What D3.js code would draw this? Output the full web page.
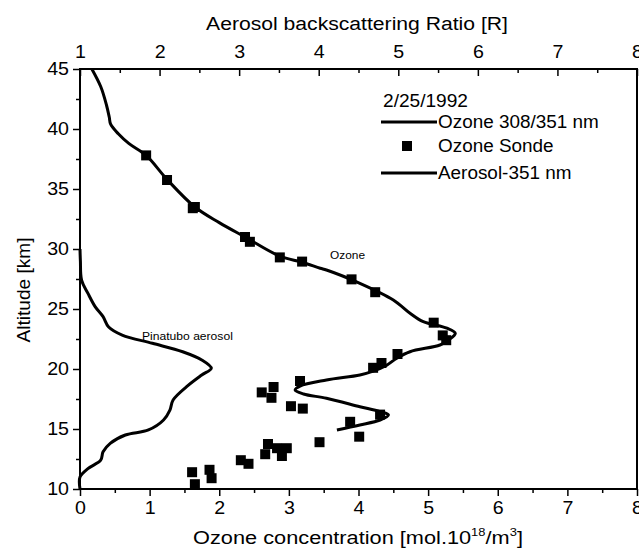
<!DOCTYPE html>
<html><head><meta charset="utf-8">
<script src="https://cdn.jsdelivr.net/npm/d3@7"></script>
<style>
body{margin:0;background:#fff;}
svg text{font-family:"Liberation Sans",Arial,sans-serif;fill:#000;}
</style></head>
<body><svg id="c" width="639" height="549"></svg>
<script>
// Ozone lidar 308/351 nm profile (concentration, altitude)
const lidarConc = [0.17,0.30,0.38,0.42,0.44,0.55,0.70,0.95,1.25,1.65,2.00,2.37,2.87,3.19,3.45,3.54,4.02,4.50,4.74,4.93,5.27,5.39,5.29,5.17,4.74,4.55,4.40,4.20,4.02,3.54,3.16,3.09,3.21,3.54,4.02,4.31,4.43,4.31,4.02,3.69];
const lidarAlt  = [45.0,43.5,42.0,41.0,40.4,39.6,38.8,37.8,35.8,33.5,32.2,31.0,29.4,28.9,28.4,28.25,27.14,25.75,24.64,23.94,23.4,22.97,22.4,22.0,21.44,20.9,20.3,19.8,19.5,19.08,18.58,18.25,17.92,17.56,16.86,16.44,16.17,15.75,15.33,14.92];
// Ozone sonde points
const sondeConc = [0.95,1.25,1.65,1.62,2.37,2.44,2.87,3.19,3.90,4.24,5.08,5.21,5.26,4.56,4.33,4.21,3.16,2.78,2.61,2.75,3.03,3.20,4.31,3.88,4.01,3.44,2.70,2.83,2.97,2.66,2.90,2.31,2.42,1.61,1.86,1.89,1.65];
const sondeAlt  = [37.8,35.75,33.5,33.4,31.0,30.6,29.3,28.95,27.47,26.4,23.86,22.8,22.4,21.25,20.5,20.1,19.0,18.5,18.05,17.6,16.9,16.7,16.2,15.6,14.36,13.9,13.75,13.4,13.4,12.9,12.75,12.4,12.1,11.4,11.6,10.9,10.4];
// Aerosol backscattering ratio 351 nm
const aeroR   = [1.0,1.005,1.02,1.10,1.19,1.29,1.36,1.53,1.91,2.29,2.53,2.65,2.53,2.34,2.17,2.13,2.05,1.86,1.57,1.38,1.29,1.26,1.10,1.0,1.0];
const aeroAlt = [30.0,29.0,27.4,26.3,25.2,24.36,23.5,22.83,22.14,21.44,20.75,20.06,19.5,18.53,17.42,16.58,15.75,14.92,14.5,13.8,13.1,12.4,11.7,11.0,10.0];
// ticks
const bottomTicks = [0,1,2,3,4,5,6,7,8];
const topTicks = [1,2,3,4,5,6,7,8];
const leftTicks = [10,15,20,25,30,35,40,45];
const legendLabels = ["Ozone 308/351 nm","Ozone Sonde","Aerosol-351 nm"];
const dateLabel = "2/25/1992";

const L=80,R=637,T=69,B=489;
const svg=d3.select("#c");
const x=d3.scaleLinear().domain([0,8]).range([L,R]);
const xr=d3.scaleLinear().domain([1,8]).range([L,R]);
const y=d3.scaleLinear().domain([10,45]).range([B,T]);
const fs=17.5;
const FF="Liberation Sans, Arial, sans-serif";
function stretch(sel,k){sel.each(function(){const w=this.getComputedTextLength();d3.select(this).attr("textLength",w*k).attr("lengthAdjust","spacingAndGlyphs");});}
function fitGroup(g,cx,cy,target,vertical){const bb=g.node().getBBox();const k=target/bb.width;
  g.attr("transform",vertical?`translate(${cx},${cy}) rotate(-90) scale(${k},1)`:`translate(${cx},${cy}) scale(${k},1)`);}

// frame
svg.append("rect").attr("x",L).attr("y",T).attr("width",R-L).attr("height",B-T)
  .attr("fill","none").attr("stroke","#000").attr("stroke-width",2);

// bottom axis (ticks outward)
const gb=svg.append("g").attr("transform",`translate(0,${B})`)
  .call(d3.axisBottom(x).tickValues(d3.range(0,8.01,0.5)).tickSize(6).tickFormat(d=>bottomTicks.includes(d)?d:""));
gb.selectAll(".tick line").attr("y2",d=>Number.isInteger(d)?7:4).attr("stroke-width",1.5);
gb.select(".domain").remove();
gb.selectAll("text").attr("font-size",fs).attr("dy","0.9em").attr("font-family",FF);
stretch(gb.selectAll("text").filter(function(){return this.textContent!=="";}),1.12);

// top axis (ticks inward)
const gt=svg.append("g").attr("transform",`translate(0,${T})`)
  .call(d3.axisTop(xr).tickValues(d3.range(1,8.01,0.5)).tickSize(0).tickFormat(d=>topTicks.includes(d)?d:""));
gt.selectAll(".tick line").attr("y2",d=>Number.isInteger(d)?7:4).attr("stroke-width",1.5);
gt.select(".domain").remove();
gt.selectAll("text").attr("font-size",fs).attr("y",-11).attr("font-family",FF);
stretch(gt.selectAll("text").filter(function(){return this.textContent!=="";}),1.12);

// left axis (ticks outward)
const gl=svg.append("g").attr("transform",`translate(${L},0)`)
  .call(d3.axisLeft(y).tickValues(d3.range(10,45.01,2.5)).tickSize(6).tickFormat(d=>leftTicks.includes(d)?d:""));
gl.selectAll(".tick line").attr("x2",d=>leftTicks.includes(d)?-7:-4).attr("stroke-width",1.5);
gl.select(".domain").remove();
gl.selectAll("text").attr("font-size",fs).attr("x",-11).attr("font-family",FF);
stretch(gl.selectAll("text").filter(function(){return this.textContent!=="";}),1.12);

// axis titles
const tt=svg.append("g");
tt.append("text").attr("text-anchor","middle").attr("font-size",18).text("Aerosol backscattering Ratio [R]");
fitGroup(tt,357,30,302,false);
const bg=svg.append("g");
const bt=bg.append("text").attr("text-anchor","middle").attr("font-size",18.5);
bt.append("tspan").text("Ozone concentration [mol.10");
bt.append("tspan").attr("font-size",11).attr("dy",-8).text("18");
bt.append("tspan").attr("dy",8).text("/m");
bt.append("tspan").attr("font-size",11).attr("dy",-8).text("3");
bt.append("tspan").attr("dy",8).text("]");
fitGroup(bg,358,544,330,false);
const yg=svg.append("g");
yg.append("text").attr("text-anchor","middle").attr("font-size",18).text("Altitude [km]");
fitGroup(yg,30,290,105,true);

// lines
const plot=svg.append("g");
const lineO=d3.line().x(i=>x(lidarConc[i])).y(i=>y(lidarAlt[i])).curve(d3.curveCatmullRom.alpha(0.5));
plot.append("path").attr("d",lineO(d3.range(lidarConc.length))).attr("fill","none").attr("stroke","#000").attr("stroke-width",3).attr("stroke-linejoin","round");
const lineA=d3.line().x(i=>xr(aeroR[i])).y(i=>y(aeroAlt[i])).curve(d3.curveCatmullRom.alpha(0.5));
plot.append("path").attr("d",lineA(d3.range(aeroR.length))).attr("fill","none").attr("stroke","#000").attr("stroke-width",3).attr("stroke-linejoin","round");
const sq=10;
plot.selectAll("rect.s").data(d3.range(sondeConc.length)).join("rect").attr("class","s")
  .attr("x",i=>x(sondeConc[i])-sq/2).attr("y",i=>y(sondeAlt[i])-sq/2).attr("width",sq).attr("height",sq).attr("fill","#000");

// annotations
const a1=svg.append("text").attr("x",330).attr("y",259).attr("font-size",11).text("Ozone");
stretch(a1,1.08);
const a2=svg.append("text").attr("x",142).attr("y",340).attr("font-size",11).text("Pinatubo aerosol");
stretch(a2,1.1);

// legend
const lg=svg.append("g");
const dt=lg.append("text").attr("x",383).attr("y",107).attr("font-size",17.5).text(dateLabel);
dt.attr("textLength",85).attr("lengthAdjust","spacingAndGlyphs");
const rows=[122,146,173];
legendLabels.forEach((t,i)=>{
  const e=lg.append("text").attr("x",438).attr("y",rows[i]+6).attr("font-size",17.5).text(t);
  stretch(e,1.08);
});
lg.append("line").attr("x1",381).attr("x2",437).attr("y1",rows[0]).attr("y2",rows[0]).attr("stroke","#000").attr("stroke-width",3);
lg.append("rect").attr("x",407-sq/2).attr("y",rows[1]-sq/2).attr("width",sq).attr("height",sq).attr("fill","#000");
lg.append("line").attr("x1",381).attr("x2",437).attr("y1",rows[2]).attr("y2",rows[2]).attr("stroke","#000").attr("stroke-width",3);
</script></body></html>
